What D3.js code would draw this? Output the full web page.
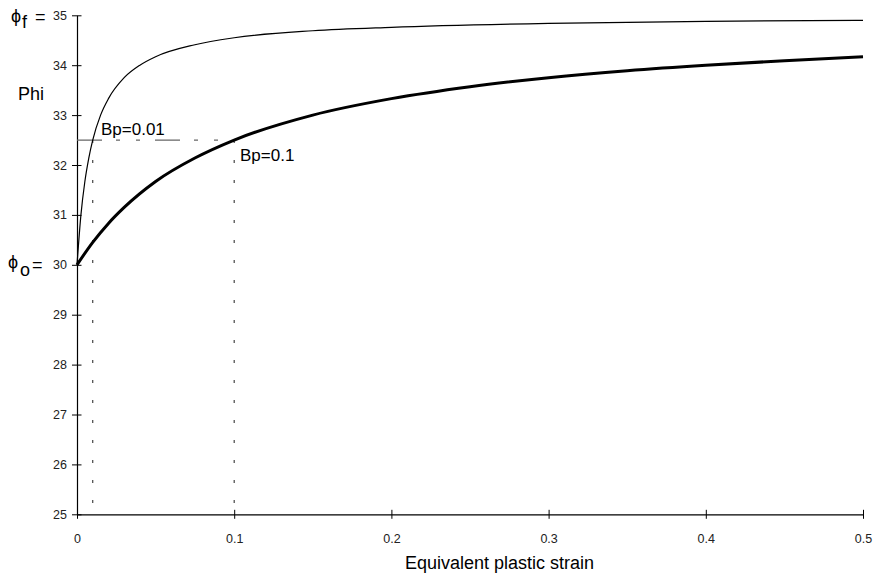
<!DOCTYPE html>
<html>
<head>
<meta charset="utf-8">
<script src="https://cdn.jsdelivr.net/npm/d3@7"></script>
<style>
  body { margin: 0; background: #fff; }
  svg { display: block; font-family: "Liberation Sans", Arial, sans-serif; }
</style>
</head>
<body>
<svg id="chart" width="873" height="577"></svg>
<script>
// Data
const strainFast = [0, 0.0025, 0.005, 0.0075, 0.01, 0.015, 0.02, 0.03, 0.04, 0.05, 0.075, 0.1, 0.15, 0.2, 0.3, 0.4, 0.5];
const phiFast    = [30, 31.0, 31.67, 32.14, 32.5, 33.0, 33.33, 33.75, 34.0, 34.17, 34.41, 34.55, 34.69, 34.76, 34.84, 34.88, 34.9];
const strainSlow = [0, 0.01, 0.02, 0.03, 0.05, 0.075, 0.1, 0.15, 0.2, 0.25, 0.3, 0.35, 0.4, 0.45, 0.5];
const phiSlow    = [30, 30.45, 30.83, 31.15, 31.67, 32.14, 32.5, 33.0, 33.33, 33.57, 33.75, 33.89, 34.0, 34.09, 34.17];
const xTicks = [0, 0.1, 0.2, 0.3, 0.4, 0.5];
const yTicks = [25, 26, 27, 28, 29, 30, 31, 32, 33, 34, 35];
const bpValues = [0.01, 0.1];
const bpLabels = ["Bp=0.01", "Bp=0.1"];
const phiMid = 32.5;

const svg = d3.select("#chart");
const x = d3.scaleLinear().domain([0, 0.5]).range([77, 863]);
const y = d3.scaleLinear().domain([25, 35]).range([514.3, 15.3]);

// Axes
const xAxis = d3.axisBottom(x).tickValues(xTicks).tickSize(0).tickFormat(d => d === 0 ? "0" : d3.format("")(d));
const gx = svg.append("g").attr("transform", `translate(0,${y(25)})`).call(xAxis);
gx.select(".domain").attr("stroke", "#000").attr("stroke-width", 1.2);
gx.selectAll(".tick line").remove();
gx.selectAll(".tick").append("line").attr("y1", -4.5).attr("y2", 4.5).attr("stroke", "#000");
gx.selectAll(".tick text").attr("y", 20).attr("font-size", 12.5).attr("fill", "#222").attr("font-family", "Liberation Sans, Arial, sans-serif");

const yAxis = d3.axisLeft(y).tickValues(yTicks).tickSize(0);
const gy = svg.append("g").attr("transform", `translate(${x(0)},0)`).call(yAxis);
gy.select(".domain").attr("stroke", "#000").attr("stroke-width", 1.2);
gy.selectAll(".tick line").remove();
gy.selectAll(".tick").append("line").attr("x1", -5).attr("x2", 4.5).attr("stroke", "#000");
gy.selectAll(".tick text").attr("x", -10).attr("font-size", 12.5).attr("fill", "#222").attr("font-family", "Liberation Sans, Arial, sans-serif");

// Guide lines
svg.append("line")
  .attr("x1", x(0)).attr("x2", x(bpValues[1]))
  .attr("y1", y(phiMid)).attr("y2", y(phiMid))
  .attr("stroke", "#666").attr("stroke-width", 1.2)
  .attr("stroke-dasharray", "25,14,4,16,4,15");
bpValues.forEach(b => {
  svg.append("line")
    .attr("x1", x(b)).attr("x2", x(b))
    .attr("y1", y(phiMid)).attr("y2", y(25))
    .attr("stroke", "#444").attr("stroke-width", 1.2)
    .attr("stroke-dasharray", "3,17");
});

// Curves
const line = d3.line().x(d => x(d[0])).y(d => y(d[1])).curve(d3.curveMonotoneX);
svg.append("path").datum(strainFast.map((s, i) => [s, phiFast[i]]))
  .attr("d", line).attr("fill", "none").attr("stroke", "#000").attr("stroke-width", 1.2);
svg.append("path").datum(strainSlow.map((s, i) => [s, phiSlow[i]]))
  .attr("d", line).attr("fill", "none").attr("stroke", "#000").attr("stroke-width", 3);

// Labels
svg.append("text").attr("x", 101).attr("y", 135).attr("font-size", 17).text(bpLabels[0]);
svg.append("text").attr("x", 240).attr("y", 161).attr("font-size", 17).text(bpLabels[1]);
svg.append("text").attr("x", 18).attr("y", 100).attr("font-size", 18).text("Phi");
svg.append("text").attr("x", 499.5).attr("y", 569).attr("text-anchor", "middle")
  .attr("font-size", 18).text("Equivalent plastic strain");

// phi_f and phi_o labels
const tf = svg.append("text").attr("x", 11).attr("y", 22).attr("font-size", 18);
tf.append("tspan").text("ϕ");
tf.append("tspan").attr("dy", 6).attr("dx", 1).text("f");
tf.append("tspan").attr("dy", -5).attr("dx", 8).text("=");
const to = svg.append("text").attr("x", 8).attr("y", 268).attr("font-size", 18);
to.append("tspan").text("ϕ");
to.append("tspan").attr("dy", 8).attr("dx", 2).text("o");
to.append("tspan").attr("dy", -5).attr("dx", 2).text("=");
</script>
</body>
</html>
